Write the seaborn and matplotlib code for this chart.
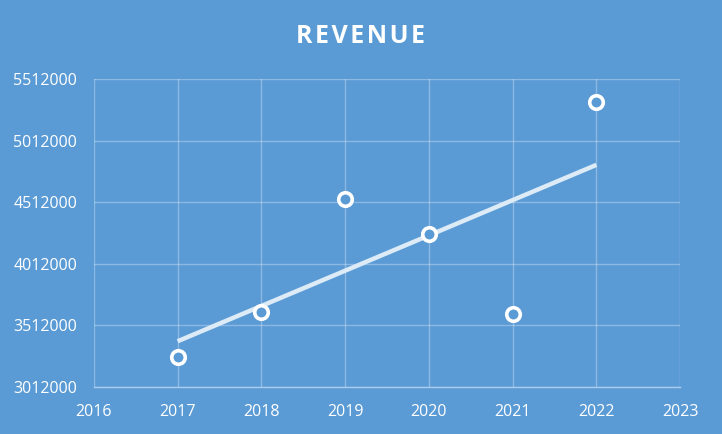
import matplotlib
matplotlib.use("Agg")
import matplotlib.pyplot as plt
import seaborn as sns
import pandas as pd

years = [2017, 2018, 2019, 2020, 2021, 2022]
revenue = [3255000, 3621000, 4538000, 4254000, 3605000, 5325000]
y_ticks = [3012000, 3512000, 4012000, 4512000, 5012000, 5512000]
x_ticks = [2016, 2017, 2018, 2019, 2020, 2021, 2022, 2023]

df = pd.DataFrame({"year": years, "revenue": revenue})

sns.set_theme(style="white")
plt.rcParams["font.family"] = ["Open Sans", "DejaVu Sans"]

bg = "#5B9BD5"
fig = plt.figure(figsize=(7.22, 4.34), dpi=100, facecolor=bg)
ax = fig.add_axes([0.130, 0.108, 0.812, 0.710])
ax.set_facecolor(bg)

sns.regplot(data=df, x="year", y="revenue", scatter=False, ci=None, ax=ax,
            line_kws={"color": "#DDEBF7", "linewidth": 3.2, "solid_capstyle": "butt"})
sns.scatterplot(data=df, x="year", y="revenue", ax=ax, s=95, marker="o",
                facecolor=bg, edgecolor="white", linewidth=2.6, zorder=5)

ax.set_xlim(2016, 2023)
ax.set_ylim(3012000, 5512000)
ax.set_xticks(x_ticks)
ax.set_yticks(y_ticks)
ax.set_xticklabels([str(x) for x in x_ticks])
ax.set_yticklabels([str(y) for y in y_ticks])
ax.tick_params(axis="both", colors="white", labelsize=11.5, length=0)
ax.tick_params(axis="y", pad=12)
ax.tick_params(axis="x", pad=12)
ax.set_xlabel("")
ax.set_ylabel("")
ax.grid(True, color="white", alpha=0.3, linewidth=1)
for s in ["top", "right", "left"]:
    ax.spines[s].set_visible(False)
ax.spines["bottom"].set_color("#A9CCEE")
ax.spines["bottom"].set_linewidth(1)

title = "\u200a".join("REVENUE")
fig.text(0.5, 0.915, title, ha="center", va="center", color="white",
         fontsize=18, fontweight="bold")

fig.savefig("out.png", dpi=100, facecolor=bg)
